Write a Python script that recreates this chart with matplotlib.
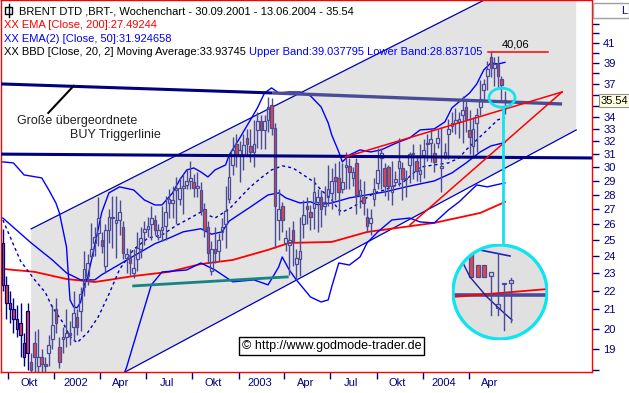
import numpy as np
import pandas as pd
import matplotlib
matplotlib.use("Agg")
import matplotlib.pyplot as plt
import matplotlib.dates as mdates
from matplotlib.patches import Ellipse, Circle, Rectangle, Polygon
from matplotlib.lines import Line2D
from matplotlib.ticker import FixedLocator, NullFormatter, FixedFormatter
from matplotlib.transforms import ScaledTranslation

plt.rcParams['font.family'] = ['Liberation Sans', 'DejaVu Sans']

# ---------------- data ----------------
first_week = '2001-09-21'
opens = [24.8, 22.3, 21.3, 21.0, 20.5, 20.3, 19.3, 20.9, 18.4, 19.3,
         18.2, 18.6, 18.3, 18.8, 19.5, 21.0, 19.1, 19.5, 19.6, 19.8,
         20.1, 20.6, 20.9, 22.2, 22.8, 24.0, 24.8, 25.4, 25.0, 23.4,
         25.6, 26.5, 26.1, 26.3, 25.8, 23.9, 23.9, 23.0, 23.8, 24.4,
         25.5, 25.7, 26.0, 26.3, 25.2, 25.6, 25.9, 27.4, 27.4, 28.3,
         27.7, 28.5, 28.7, 29.0, 28.9, 28.5, 28.3, 27.0, 25.8, 23.1,
         24.4, 24.3, 25.5, 26.0, 27.7, 30.2, 31.8, 30.9, 30.9, 32.3,
         31.6, 31.2, 32.9, 33.7, 32.9, 33.8, 35.1, 33.1, 26.3, 27.2,
         24.8, 24.7, 25.6, 23.5, 23.8, 26.0, 27.2, 26.8, 27.1, 27.5,
         27.8, 27.2, 27.8, 28.1, 29.3, 29.2, 28.4, 30.0, 30.1, 29.2,
         30.3, 27.9, 27.8, 26.5, 26.1, 27.7, 28.8, 30.7, 29.9, 30.0,
         28.2, 28.9, 29.9, 29.9, 29.1, 30.2, 31.0, 30.5, 29.5, 30.9,
         31.8, 31.9, 31.1, 31.9, 29.9, 30.8, 32.6, 33.3, 33.5, 33.6,
         34.2, 34.9, 32.9, 31.6, 33.5, 34.9, 36.4, 37.7, 39.6, 38.5,
         38.9, 37.4, 35.3]
highs = [25.7, 22.8, 22.0, 21.6, 21.2, 21.3, 19.8, 21.3, 18.8, 19.9,
         20.0, 19.0, 18.6, 19.7, 21.2, 21.6, 19.6, 20.1, 21.0, 20.4,
         22.0, 21.0, 22.2, 24.3, 24.1, 26.1, 25.8, 27.8, 25.5, 26.0,
         27.0, 27.9, 27.9, 27.6, 26.2, 24.5, 24.4, 24.4, 25.5, 25.8,
         26.2, 26.5, 27.2, 26.6, 26.0, 27.2, 27.9, 28.4, 28.6, 29.3,
         29.3, 29.5, 29.8, 30.5, 29.5, 29.6, 28.9, 27.4, 26.2, 24.9,
         25.8, 25.4, 26.4, 28.6, 30.9, 32.4, 32.6, 32.0, 32.6, 33.0,
         33.0, 33.8, 34.5, 34.2, 34.2, 35.8, 35.7, 33.5, 28.4, 27.5,
         25.6, 25.8, 26.2, 24.4, 26.5, 27.6, 27.8, 27.3, 29.3, 28.4,
         28.3, 28.6, 30.2, 29.9, 30.3, 30.5, 30.3, 31.2, 30.7, 30.0,
         30.7, 29.1, 29.0, 27.1, 27.0, 29.2, 31.5, 31.5, 30.3, 30.2,
         30.5, 29.7, 32.3, 30.4, 29.8, 31.2, 31.8, 30.9, 31.8, 32.2,
         32.6, 33.0, 31.9, 33.0, 33.2, 31.9, 33.9, 34.5, 34.8, 34.5,
         35.9, 35.4, 34.6, 34.0, 34.8, 37.3, 37.4, 39.2, 40.06, 39.6,
         39.7, 37.7, 36.3]
lows = [22.0, 20.5, 20.3, 19.8, 19.6, 18.6, 18.2, 18.0, 17.5, 17.6,
        17.8, 17.8, 17.7, 18.2, 19.0, 19.8, 18.1, 18.8, 19.1, 19.2,
        19.4, 19.7, 19.9, 21.7, 22.3, 23.9, 24.0, 24.6, 24.2, 23.0,
        24.8, 24.5, 23.9, 25.3, 23.8, 23.0, 22.9, 22.7, 23.1, 23.9,
        24.7, 25.2, 25.0, 25.3, 25.0, 24.9, 25.0, 26.4, 26.4, 26.0,
        27.3, 26.7, 28.4, 28.4, 27.8, 27.8, 26.6, 25.2, 23.6, 22.9,
        23.6, 23.7, 25.0, 24.5, 27.4, 29.4, 30.0, 28.9, 29.8, 31.0,
        30.4, 30.0, 31.5, 31.4, 31.4, 32.8, 32.5, 24.5, 25.0, 25.5,
        24.3, 22.9, 23.4, 22.6, 22.8, 25.1, 26.0, 25.6, 25.7, 25.5,
        25.8, 26.6, 27.2, 27.0, 27.6, 26.6, 28.1, 28.4, 28.4, 28.6,
        26.7, 27.1, 26.6, 25.5, 25.3, 27.2, 28.4, 28.4, 27.9, 27.6,
        27.3, 28.6, 28.6, 27.6, 27.8, 28.8, 29.1, 29.0, 28.9, 29.2,
        30.5, 30.4, 29.6, 31.5, 28.2, 30.6, 30.6, 32.8, 32.6, 32.3,
        31.9, 32.8, 31.0, 30.8, 31.2, 34.2, 35.3, 36.4, 37.6, 36.8,
        36.5, 35.5, 34.3]
closes = [22.3, 21.3, 21.0, 20.5, 20.0, 19.7, 18.6, 18.8, 18.0, 18.6,
          18.6, 18.3, 18.2, 19.2, 20.2, 20.3, 18.4, 19.6, 19.8, 19.7,
          20.8, 20.1, 21.8, 23.2, 23.6, 24.4, 25.2, 26.4, 24.6, 25.6,
          26.5, 26.4, 26.3, 26.8, 24.2, 24.1, 23.6, 23.3, 24.5, 25.1,
          25.7, 25.9, 26.4, 25.6, 25.6, 25.8, 26.8, 27.7, 27.6, 28.5,
          28.5, 28.6, 29.0, 29.2, 28.5, 28.6, 26.9, 25.6, 24.2, 24.4,
          24.2, 25.0, 25.8, 26.9, 29.3, 31.3, 31.0, 31.3, 31.7, 31.8,
          31.2, 31.8, 33.7, 32.9, 33.7, 34.9, 33.1, 27.2, 27.0, 26.3,
          25.1, 25.0, 24.9, 23.9, 24.3, 26.6, 27.0, 26.5, 28.2, 27.8,
          27.0, 27.5, 28.4, 29.0, 29.0, 28.2, 28.9, 30.2, 29.6, 29.6,
          28.0, 28.3, 27.4, 25.9, 26.4, 28.4, 29.8, 31.1, 28.6, 28.6,
          28.6, 29.1, 30.5, 29.1, 29.2, 31.0, 31.1, 29.7, 29.8, 31.3,
          31.9, 32.2, 30.4, 32.3, 30.1, 31.2, 33.0, 33.5, 33.8, 33.9,
          34.6, 33.9, 32.4, 33.0, 34.2, 35.6, 37.0, 38.4, 38.5, 38.9,
          37.7, 36.9, 35.54]

# indicator curves (week index -> value)
ema200_idx = [0, 9, 18, 26, 30, 37, 47, 56, 65, 75, 81, 93, 103, 122, 135, 142]
ema200_val = [23.23, 23.06, 22.65, 22.48, 22.60, 22.82, 23.06, 23.52, 23.76, 24.37,
              24.80, 24.86, 25.49, 26.08, 26.74, 27.49]
ema50_idx = [0, 8, 14, 18, 22, 26, 28, 33, 37, 43, 47, 51, 56, 59, 62, 64, 70, 75, 78, 80,
             84, 87, 89, 93, 98, 103, 108, 114, 122, 127, 131, 135, 138, 142]
ema50_val = [26.4, 24.8, 23.76, 23.0, 22.6, 22.6, 22.9, 23.5, 24.0, 24.75, 25.1, 25.5, 25.7,
             25.35, 25.5, 26.2, 27.14, 27.98, 28.12, 27.77, 27.42, 27.5, 27.3, 27.42, 27.77,
             27.98, 28.19, 28.55, 28.98, 29.57, 30.32, 31.17, 31.64, 31.92]
bbmid_idx = [0, 5, 9, 12, 14, 17, 19, 21, 24, 27, 30, 33, 37, 41, 45, 49, 53, 56, 60, 64,
             67, 70, 73, 76, 79, 82, 85, 88, 90, 93, 95, 96, 99, 102, 105, 108, 110, 113,
             118, 122, 126, 129, 131, 134, 137, 140, 142]
bbmid_val = [26.27, 23.7, 22.6, 21.9, 21.1, 20.3, 19.6, 19.3, 19.8, 20.6, 21.8, 23.2, 24.4,
             25.1, 25.3, 25.9, 26.4, 26.8, 26.4, 27.0, 27.77, 28.55, 29.2, 29.79, 30.1, 29.94,
             29.42, 28.9, 28.33, 27.63, 26.94, 26.81, 27.14, 27.63, 28.12, 28.33, 28.55, 28.84,
             30.0, 30.17, 30.32, 30.7, 31.33, 32.12, 32.94, 33.8, 33.94]
bbup_idx = [0, 3, 6, 11, 13, 15, 16, 18, 19, 20, 21, 22, 23, 24, 26, 28, 30, 33, 37, 40, 43,
            45, 48, 50, 52, 54, 56, 58, 60, 63, 64, 67, 70, 72, 74, 76, 78, 81, 84, 87, 90,
            92, 93, 95, 96, 98, 101, 104, 107, 110, 112, 115, 118, 122, 125, 127, 130, 132,
            134, 136, 138, 140, 142]
bbup_val = [30.4, 30.32, 29.42, 29.2, 28.33, 27.42, 26.74, 24.55, 21.49, 21.12, 21.07, 21.38,
            22.32, 22.77, 24.67, 26.8, 28.12, 28.55, 28.33, 27.63, 27.28, 27.28, 28.12, 29.05,
            29.79, 29.94, 29.64, 29.27, 29.79, 30.17, 30.93, 32.28, 33.78, 34.82, 36.15, 36.61,
            36.15, 36.24, 36.24, 35.88, 34.9, 33.53, 32.53, 31.17, 30.40, 30.93, 31.33, 31.17,
            31.33, 31.72, 31.96, 32.28, 32.94, 33.03, 33.61, 34.82, 35.61, 36.15, 36.97, 38.30,
            38.98, 38.88, 39.04]
bblo_idx = [32, 35, 39, 42, 45, 52, 56, 60, 65, 71, 75, 78, 79, 81, 83, 87, 90, 92, 93, 95,
            98, 101, 103, 106, 110, 115, 118, 122, 126, 129, 134, 137, 142]
bblo_val = [16.9, 18.15, 20.44, 22.32, 23.05, 23.17, 23.58, 23.17, 22.49, 22.60, 22.32, 23.34,
            23.94, 23.17, 22.60, 21.65, 21.38, 21.49, 22.21, 23.58, 23.46, 23.94, 24.80, 25.49,
            26.27, 26.40, 26.14, 26.08, 26.94, 27.49, 28.69, 28.55, 28.84]

# drawn trend lines (date, price)
chan_upper_d = ['2001-11-16', '2004-05-01']; chan_upper_p = [25.69, 45.66]
chan_lower_d = ['2002-05-21', '2004-10-30']; chan_lower_p = [17.93, 32.94]
trig1_d = ['2001-09-16', '2003-03-08']; trig1_p = [36.98, 36.15]
trig2_d = ['2003-03-08', '2004-10-02']; trig2_p = [36.15, 35.16]
hline_d = ['2001-09-16', '2004-11-30']; hline_p = [31.0, 30.7]
red_up_d = ['2003-07-31', '2004-10-02']; red_up_p = [30.78, 36.24]
red_lo_d = ['2003-12-06', '2004-10-02']; red_lo_p = [25.95, 36.24]
teal_d = ['2002-06-07', '2003-04-07']; teal_p = [22.26, 22.77]
pointer_d = ['2001-12-20', '2002-02-08']; pointer_p = [34.38, 36.79]
peak_line_d = ['2004-05-09', '2004-09-04']; peak_value = 40.06

ytick_major = [19, 20, 21, 22, 23, 24, 25, 26, 27, 28, 29, 30, 31, 32, 33, 34, 37, 39, 41]
ytick_minor = [18, 35, 36, 38, 40, 42, 43, 44, 45]
xtick_dates = ['2001-10-01', '2002-01-01', '2002-04-01', '2002-07-01', '2002-10-01',
               '2003-01-01', '2003-04-01', '2003-07-01', '2003-10-01', '2004-01-01', '2004-04-01']
xtick_labels = ['Okt', '2002', 'Apr', 'Jul', 'Okt', '2003', 'Apr', 'Jul', 'Okt', '2004', 'Apr']

# ---------------- styling ----------------
W, H = 629, 393
NAVY = '#000080'
SLATE = '#4b4b99'
CANDLE_RED = '#e04848'
CYAN = '#10e4ee'
GRAY = '#e3e3e3'

fig = plt.figure(figsize=(W / 100, H / 100), dpi=100)
fig.patch.set_facecolor('white')
ax = fig.add_axes([0.6 / W, 21 / H, 591.4 / W, 372 / H])
ax.set_yscale('log')
ylo, yhi = 17.93, 45.66
ax.set_ylim(ylo, yhi)
d0 = mdates.date2num(pd.Timestamp('2001-10-01')) - 7.3 / 0.5057
ax.set_xlim(d0, d0 + 592 / 0.5057)

def dn(s):
    return mdates.date2num(pd.to_datetime(s))

weeks = pd.date_range(first_week, periods=len(closes), freq='7D')
xw = mdates.date2num(weeks)
o = np.array(opens); h = np.array(highs); l = np.array(lows); c = np.array(closes)

# gray channel
cu = dn(chan_upper_d); cl = dn(chan_lower_d)
poly = Polygon([(cu[0], ylo), (cu[0], chan_upper_p[0]), (cu[1], yhi), (cl[1], yhi),
                (cl[1], chan_lower_p[1]), (cl[0], chan_lower_p[0])],
               closed=True, facecolor=GRAY, edgecolor='none', zorder=0.5)
ax.add_patch(poly)
ax.plot(cu, chan_upper_p, color='#0000b0', lw=0.9, zorder=1)
ax.plot(cl, chan_lower_p, color='#0000b0', lw=0.9, zorder=1)

# indicator curves
ax.plot(xw[ema200_idx], ema200_val, color='#ff0000', lw=1.3, zorder=2)
ax.plot(xw[ema50_idx], ema50_val, color='#0000ff', lw=1.0, zorder=2)
ax.plot(xw[bbup_idx], bbup_val, color='#0000ff', lw=1.0, zorder=2)
ax.plot(xw[bblo_idx], bblo_val, color='#0000ff', lw=1.0, zorder=2)
ax.plot(xw[bbmid_idx], bbmid_val, color='#0000c0', lw=1.0, ls=(0, (2.2, 2.2)), zorder=2)

# candles
cc = [NAVY if i < 8 else SLATE for i in range(len(c))]
btop = np.maximum(o, c); bbot = np.minimum(o, c)
ax.vlines(xw, btop, h, colors=cc, lw=1.0, zorder=3)
ax.vlines(xw, l, bbot, colors=cc, lw=1.0, zorder=3)
up = c >= o
ax.bar(xw[up], (btop - bbot)[up], bottom=bbot[up], width=5.2, facecolor='none',
       edgecolor=np.array(cc)[up], lw=0.9, zorder=3)
ax.bar(xw[~up], (btop - bbot)[~up], bottom=bbot[~up], width=5.2, facecolor=CANDLE_RED,
       edgecolor=np.array(cc)[~up], lw=0.9, zorder=3)

# trend / trigger lines
ax.plot(dn(trig1_d), trig1_p, color=NAVY, lw=2.2, zorder=4, solid_capstyle='butt')
ax.plot(dn(trig2_d), trig2_p, color=SLATE, lw=2.4, zorder=4, solid_capstyle='butt')
ax.plot(dn(hline_d), hline_p, color=NAVY, lw=2.2, zorder=4)
ax.plot(dn(red_up_d), red_up_p, color='#ff0000', lw=1.1, zorder=4)
ax.plot(dn(red_lo_d), red_lo_p, color='#ff0000', lw=1.1, zorder=4)
ax.plot(dn(teal_d), teal_p, color='#168484', lw=2.0, zorder=4)
ax.plot(dn(pointer_d), pointer_p, color='black', lw=1.5, zorder=5)
ax.plot(dn(peak_line_d), [peak_value] * 2, color='#ff0000', lw=1.1, zorder=5)
ax.annotate('40,06', xy=(dn(peak_line_d[0]), peak_value), xytext=(10, 2),
            textcoords='offset points', fontsize=8, ha='left', va='bottom', zorder=6)

# cyan highlight around last candle
anchor = ScaledTranslation(xw[-1], c[-1], ax.transData)
ax.add_patch(Ellipse((-0.03, 0.02), 0.26, 0.19, transform=fig.dpi_scale_trans + anchor,
                     fill=False, edgecolor=CYAN, lw=2.0, zorder=6, clip_on=False))
ax.add_line(Line2D([-0.02, -0.02], [-0.08, -1.42], transform=fig.dpi_scale_trans + anchor,
                   color=CYAN, lw=2.0, zorder=6, clip_on=False))

# axis formatting
for sp in ax.spines.values():
    sp.set_color('#ff0000'); sp.set_linewidth(1.0)
ax.yaxis.tick_right()
ax.yaxis.set_major_locator(FixedLocator(ytick_major))
ax.yaxis.set_major_formatter(FixedFormatter([str(v) for v in ytick_major]))
ax.yaxis.set_minor_locator(FixedLocator(ytick_minor))
ax.yaxis.set_minor_formatter(NullFormatter())
ax.tick_params(axis='y', which='both', direction='out', length=5, width=1, colors=NAVY,
               labelsize=8, pad=3)
ax.xaxis.set_major_locator(FixedLocator(dn(xtick_dates)))
ax.xaxis.set_major_formatter(NullFormatter())
ax.xaxis.set_minor_locator(FixedLocator(dn(xtick_dates) + 41.5))
ax.xaxis.set_minor_formatter(FixedFormatter(xtick_labels))
ax.tick_params(axis='x', which='major', direction='out', length=5, width=1, colors=NAVY)
ax.tick_params(axis='x', which='minor', length=0, labelsize=8, labelcolor=NAVY, pad=4)

# inset magnifier
iax = fig.add_axes([452 / W, (H - 340) / H, 96 / W, 96 / H])
iax.set_xlim(0, 96); iax.set_ylim(96, 0); iax.axis('off')
circ = Circle((48, 48), 47, facecolor='#e0e0e0', edgecolor='none', zorder=0)
iax.add_patch(circ)
inset_x = [18.5, 25.5, 32, 39, 45.5, 52, 59]
inset_top = [9, 21, 21, 28, 60, 39, 36]
inset_bot = [33, 33, 33, 32, 64, 39.5, 39]
inset_hi = [9, 21, 21, 28, 9, 39, 34]
inset_lo = [33, 33, 33, 71, 71, 86, 78]
inset_red = [True, True, True, False, False, False, False]
arts = []
arts += iax.plot([0, 96], [51, 51], color=SLATE, lw=2.6)
arts += iax.plot([0, 96], [53, 45], color='#ff0000', lw=1.3)
arts += iax.plot([28, 58], [6, 12], color='#2020c0', lw=1.2)
arts += iax.plot([11, 18, 35, 51, 60], [19, 33, 53, 68, 76], color='#2020a0', lw=1.0)
for xi, t, b, hi_, lo_, r in zip(inset_x, inset_top, inset_bot, inset_hi, inset_lo, inset_red):
    arts += iax.plot([xi, xi], [hi_, t], color=SLATE, lw=1.0)
    arts += iax.plot([xi, xi], [b, lo_], color=SLATE, lw=1.0)
    rect = Rectangle((xi - 2, t), 4, b - t, facecolor=CANDLE_RED if r else 'none',
                     edgecolor=SLATE, lw=0.9)
    iax.add_patch(rect); arts.append(rect)
for a in arts:
    a.set_clip_path(circ)
iax.add_patch(Circle((48, 48), 47, fill=False, edgecolor=CYAN, lw=2.4, zorder=5))

# ---------------- texts ----------------
def fx(px): return px / W
def fy(py): return 1 - py / H

fig.add_artist(Rectangle((fx(5), fy(14)), 7 / W, 7 / H, transform=fig.transFigure,
                         fill=False, edgecolor='black', lw=1.0))
fig.add_artist(Line2D([fx(8.5)] * 2, [fy(4), fy(17)], transform=fig.transFigure,
                      color='black', lw=1.0))
fig.text(fx(19), fy(11.5), 'BRENT DTD ,BRT-, Wochenchart - 30.09.2001 - 13.06.2004 - 35.54',
         fontsize=8, va='center', ha='left', color='black')
fig.text(fx(4), fy(25), 'XX EMA [Close, 200]:27.49244', fontsize=8, va='center',
         color='#ff0000')
fig.text(fx(4), fy(38.5), 'XX EMA(2) [Close, 50]:31.924658', fontsize=8, va='center',
         color='#0000ff')
t4 = fig.text(fx(4), fy(52), 'XX BBD [Close, 20, 2] Moving Average:33.93745 ', fontsize=8,
              va='center', color='black')
ax.annotate('Upper Band:39.037795 Lower Band:28.837105', xy=(1, 0.5), xycoords=t4,
            fontsize=8, va='center', ha='left', color='#0000ff', annotation_clip=False)

fig.text(fx(17), fy(121), 'Große übergeordnete', fontsize=9, va='center', color='#222222')
fig.text(fx(70), fy(135), 'BUY Triggerlinie', fontsize=9, va='center', color='#222222')

fig.text(fx(331.5), fy(346), '\u00a9 http://www.godmode-trader.de', fontsize=9,
         ha='center', va='center', color='black',
         bbox=dict(boxstyle='square,pad=0.25', facecolor='white', edgecolor='black', lw=1.0))

fig.text(fx(601), fy(100.5), '35.54', fontsize=8, va='center', ha='left', color='black',
         bbox=dict(boxstyle='square,pad=0.15', facecolor='#ffffe0', edgecolor='#909090',
                   lw=0.8), zorder=10)
fig.add_artist(Rectangle((fx(593), fy(18)), 36 / W, 15 / H, transform=fig.transFigure,
                         facecolor='white', edgecolor='#a0a0a0', lw=1.0))
fig.text(fx(621), fy(10.5), 'L', fontsize=8, va='center', ha='left', color=NAVY)

fig.savefig('out.png', dpi=100)
